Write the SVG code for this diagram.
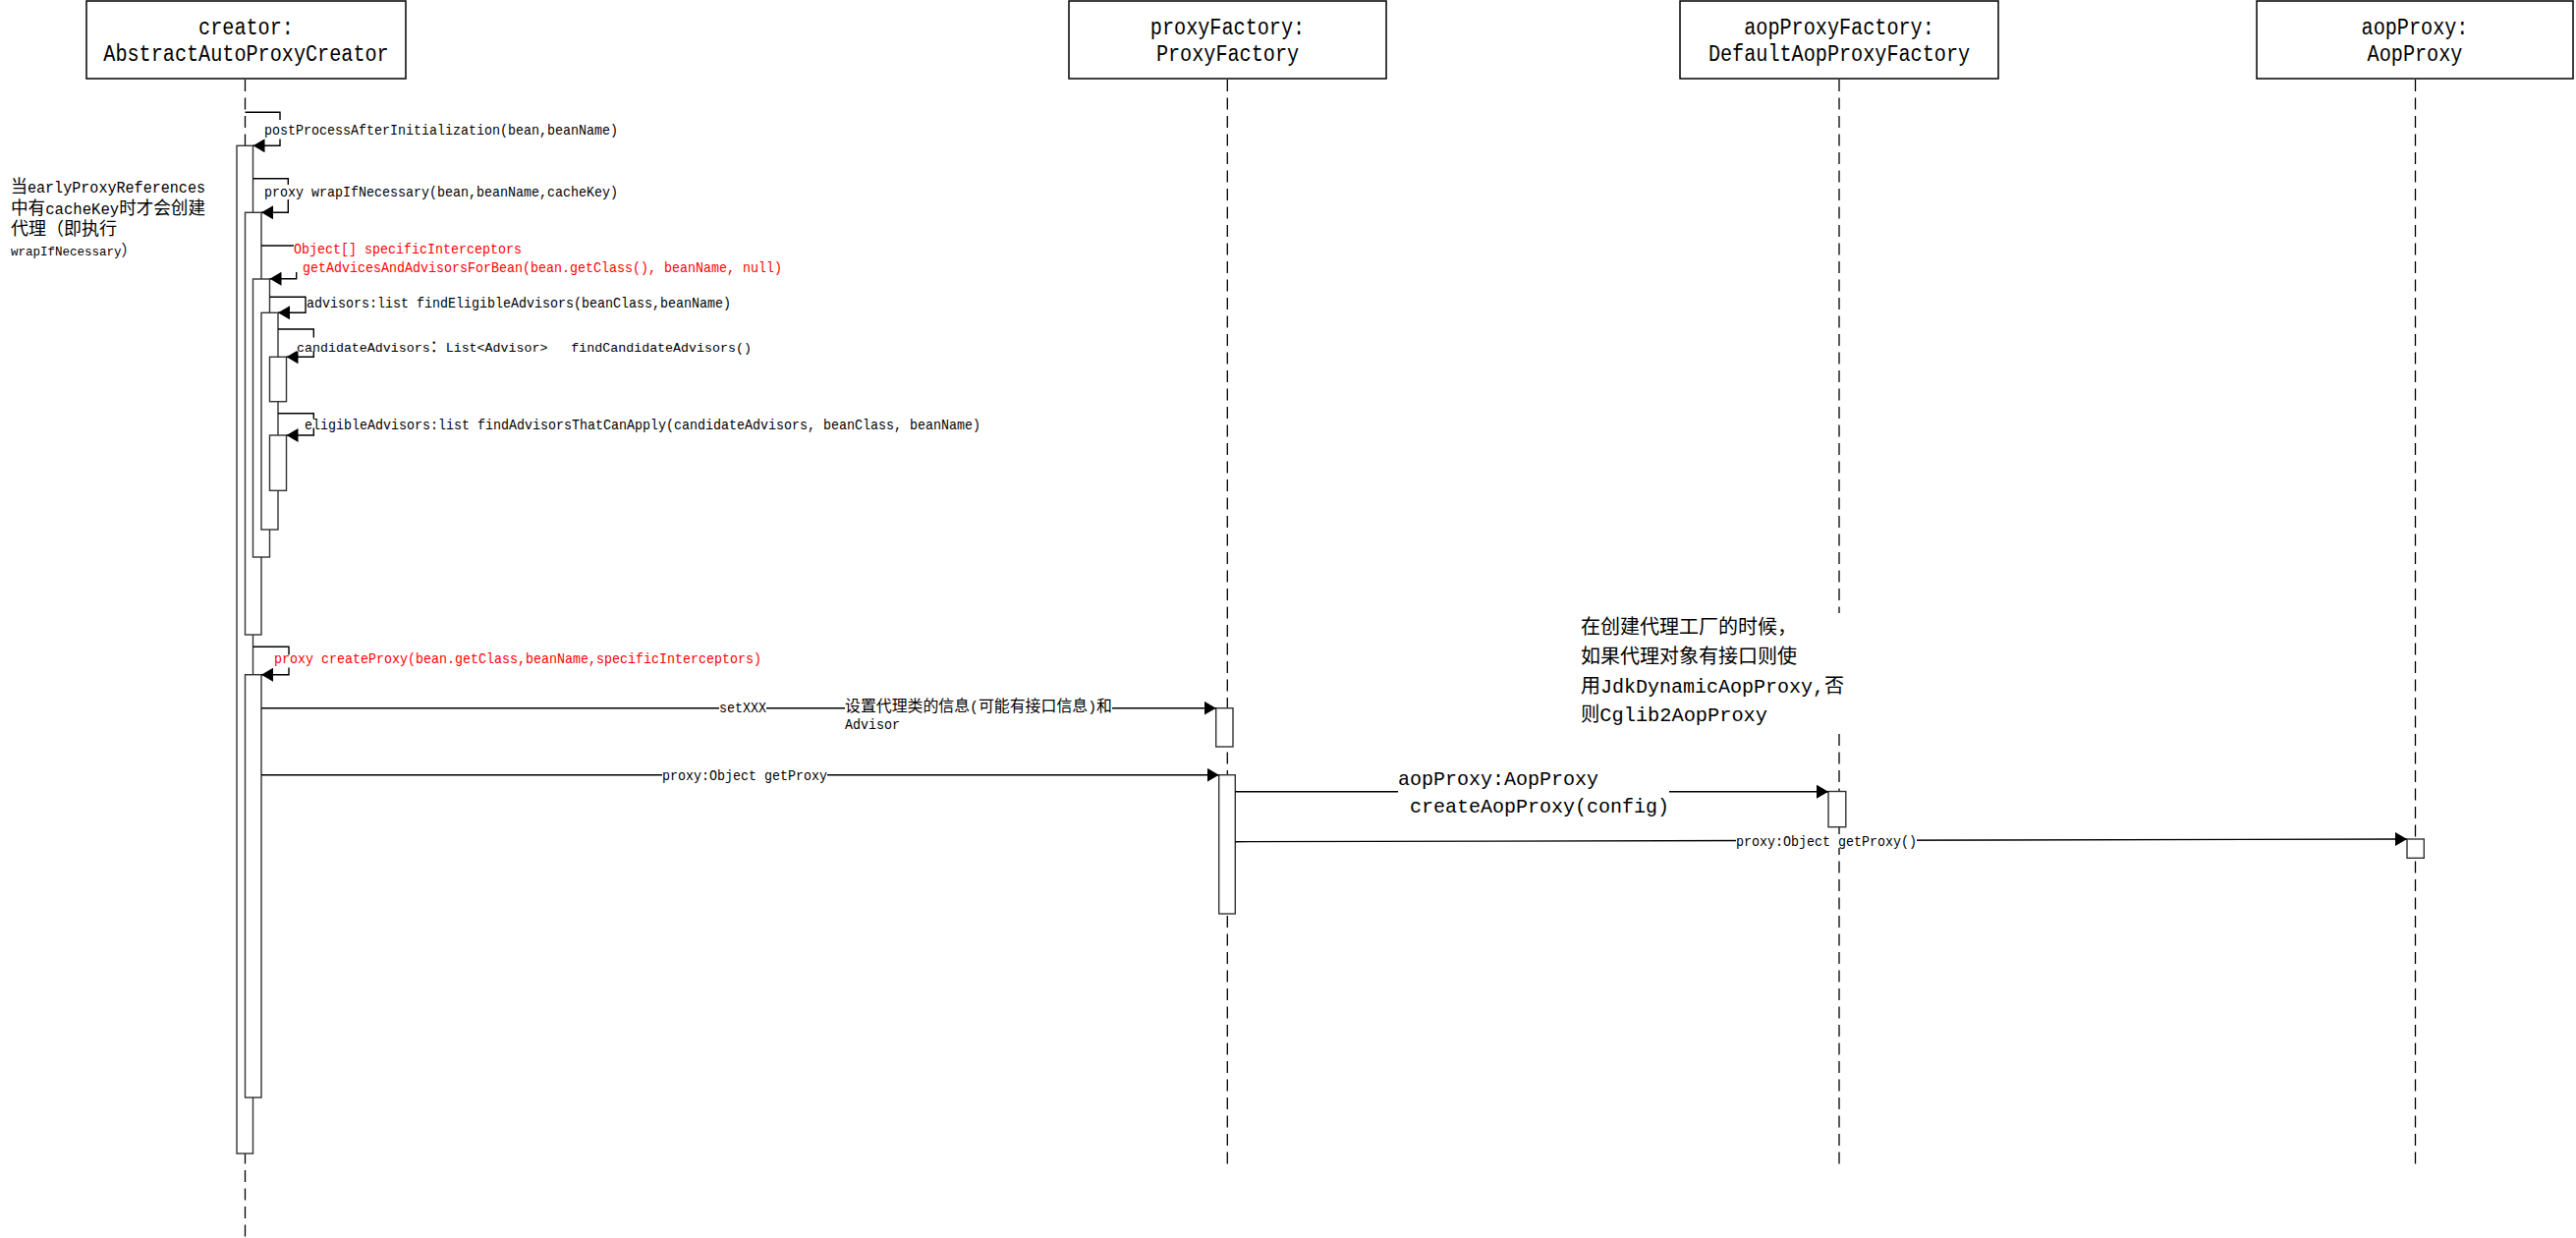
<svg xmlns="http://www.w3.org/2000/svg" width="2622" height="1260" viewBox="0 0 2622 1260">
<style>
.head{fill:#fff;stroke:#000;stroke-width:1.5}
.ht{font-family:"Liberation Mono","Noto Sans CJK SC",monospace;font-size:23px;fill:#000;text-anchor:middle}
.life{stroke:#000;stroke-width:1.3;stroke-dasharray:12 6.5;fill:none}
.bar{fill:#fff;stroke:#333;stroke-width:1.4}
.msg{fill:none;stroke:#000;stroke-width:1.4}
.lb{font-family:"Liberation Mono","Noto Sans CJK SC",monospace;font-size:15px;fill:#000}
.red{fill:#ff0000}
.c16{font-family:"Noto Sans CJK SC",sans-serif;font-size:16px}
.bg{fill:#fff;stroke:none}
.big{font-family:"Liberation Mono","Noto Sans CJK SC",monospace;font-size:21px;fill:#000}
.c20{font-family:"Noto Sans CJK SC",sans-serif;font-size:20px}
.note{font-family:"Liberation Mono","Noto Sans CJK SC",monospace;font-size:16px;fill:#000}
.c18{font-family:"Noto Sans CJK SC",sans-serif;font-size:18px}
</style>
<defs>
<marker id="arr" viewBox="0 0 12 14" refX="12" refY="7" markerWidth="12" markerHeight="14" markerUnits="userSpaceOnUse" orient="auto">
<path d="M0,0 L12,7 L0,14 z" fill="#000"/>
</marker>
</defs>
<rect width="2622" height="1260" fill="#fff"/>

<g id="creator">
<line class="life" x1="249.5" y1="81" x2="249.5" y2="1260"/>
<rect class="head" x="88" y="1" width="325" height="79"/>
<text class="ht" x="250.5" y="35" textLength="96.8" lengthAdjust="spacingAndGlyphs">creator:</text>
<text class="ht" x="250.5" y="62" textLength="290.4" lengthAdjust="spacingAndGlyphs">AbstractAutoProxyCreator</text>
<rect class="bar" x="241" y="148.3" width="16.5" height="1025.7"/>
<rect class="bar" x="249.5" y="216.3" width="16.5" height="429.7"/>
<rect class="bar" x="257.5" y="284" width="17" height="283"/>
<rect class="bar" x="266" y="318.3" width="17" height="220.7"/>
<rect class="bar" x="274.5" y="363.3" width="17" height="45.4"/>
<rect class="bar" x="274.5" y="443" width="17" height="56.3"/>
<rect class="bar" x="249.5" y="686.7" width="16.5" height="430.3"/>
</g>

<g id="proxyFactory">
<line class="life" x1="1249.3" y1="81" x2="1249.3" y2="1190"/>
<rect class="head" x="1088" y="1" width="323" height="79"/>
<text class="ht" x="1249.5" y="35" textLength="157.3" lengthAdjust="spacingAndGlyphs">proxyFactory:</text>
<text class="ht" x="1249.5" y="62" textLength="145.2" lengthAdjust="spacingAndGlyphs">ProxyFactory</text>
<rect class="bar" x="1237.7" y="720.7" width="17.3" height="39.3"/>
<rect class="bar" x="1240.7" y="788.7" width="16.6" height="141.3"/>
</g>

<g id="aopProxyFactory">
<line class="life" x1="1872" y1="81" x2="1872" y2="1190"/>
<rect class="head" x="1710" y="1" width="324" height="79"/>
<text class="ht" x="1872" y="35" textLength="193.6" lengthAdjust="spacingAndGlyphs">aopProxyFactory:</text>
<text class="ht" x="1872" y="62" textLength="266.2" lengthAdjust="spacingAndGlyphs">DefaultAopProxyFactory</text>
<rect class="bar" x="1861" y="805.5" width="17.8" height="36.2"/>
</g>

<g id="aopProxy">
<line class="life" x1="2458.5" y1="81" x2="2458.5" y2="1190"/>
<rect class="head" x="2297" y="1" width="322" height="79"/>
<text class="ht" x="2458" y="35" textLength="108.9" lengthAdjust="spacingAndGlyphs">aopProxy:</text>
<text class="ht" x="2458" y="62" textLength="96.8" lengthAdjust="spacingAndGlyphs">AopProxy</text>
<rect class="bar" x="2450" y="854" width="17.3" height="19.3"/>
</g>

<g id="note-left">
<text class="note" x="11" y="196" textLength="198" lengthAdjust="spacingAndGlyphs"><tspan class="c18">当</tspan>earlyProxyReferences</text>
<text class="note" x="11" y="218" textLength="198" lengthAdjust="spacingAndGlyphs"><tspan class="c18">中有</tspan>cacheKey<tspan class="c18">时才会创建</tspan></text>
<text class="note" x="11" y="239"><tspan class="c18">代理（即执行</tspan></text>
<text class="note" x="11" y="260" style="font-size:13px" textLength="128" lengthAdjust="spacingAndGlyphs">wrapIfNecessary<tspan class="c18" style="font-size:16px">）</tspan></text>
</g>

<g id="note-right">
<rect class="bg" x="1602" y="624" width="288" height="122"/>
<text class="big" x="1609" y="645"><tspan class="c20">在创建代理工厂的时候，</tspan></text>
<text class="big" x="1609" y="675"><tspan class="c20">如果代理对象有接口则使</tspan></text>
<text class="big" x="1609" y="705" style="font-size:20px"><tspan class="c20">用</tspan>JdkDynamicAopProxy,<tspan class="c20">否</tspan></text>
<text class="big" x="1609" y="734" textLength="190" lengthAdjust="spacingAndGlyphs"><tspan class="c20">则</tspan>Cglib2AopProxy</text>
</g>

<g id="connectors">
<path class="msg" d="M249.5,114.3 H285 V148.3 H257.5" marker-end="url(#arr)"/>
<path class="msg" d="M257.5,181.7 H293.3 V216.3 H266" marker-end="url(#arr)"/>
<path class="msg" d="M266,250 H301.7 V283.7 H274.5" marker-end="url(#arr)"/>
<path class="msg" d="M274.5,302.3 H311 V318.3 H283" marker-end="url(#arr)"/>
<path class="msg" d="M283,335 H319.3 V363.3 H291.5" marker-end="url(#arr)"/>
<path class="msg" d="M283,420.7 H319.3 V443 H291.5" marker-end="url(#arr)"/>
<path class="msg" d="M257.5,658.3 H294 V686.7 H266" marker-end="url(#arr)"/>
<path class="msg" d="M266,720.7 H1237.7" marker-end="url(#arr)"/>
<path class="msg" d="M266,788.7 H1240.7" marker-end="url(#arr)"/>
<path class="msg" d="M1257.3,805.7 H1861" marker-end="url(#arr)"/>
<path class="msg" d="M1257.3,856.7 L2450,854" marker-end="url(#arr)"/>

<rect class="bg" x="268" y="122" width="362" height="19.5"/>
<text class="lb" x="269" y="137" textLength="360" lengthAdjust="spacingAndGlyphs">postProcessAfterInitialization(bean,beanName)</text>

<rect class="bg" x="268" y="188" width="362" height="15"/>
<text class="lb" x="269" y="200" textLength="360" lengthAdjust="spacingAndGlyphs">proxy wrapIfNecessary(bean,beanName,cacheKey)</text>

<rect class="bg" x="299" y="244" width="497" height="33"/>
<text class="lb red" x="299" y="258" textLength="232" lengthAdjust="spacingAndGlyphs">Object[] specificInterceptors</text>
<text class="lb red" x="308" y="277" textLength="488" lengthAdjust="spacingAndGlyphs">getAdvicesAndAdvisorsForBean(bean.getClass(), beanName, null)</text>

<rect class="bg" x="312" y="302" width="433" height="14"/>
<text class="lb" x="312" y="313" textLength="432" lengthAdjust="spacingAndGlyphs">advisors:list findEligibleAdvisors(beanClass,beanName)</text>

<rect class="bg" x="302" y="343.5" width="465" height="14"/>
<text class="lb" x="302" y="357.5" xml:space="preserve" style="font-size:13.3px">candidateAdvisors<tspan class="c16">：</tspan>List&lt;Advisor&gt;   findCandidateAdvisors()</text>

<rect class="bg" x="310" y="426.5" width="689" height="9"/>
<text class="lb" x="310" y="437" textLength="688" lengthAdjust="spacingAndGlyphs">eligibleAdvisors:list findAdvisorsThatCanApply(candidateAdvisors, beanClass, beanName)</text>

<rect class="bg" x="279" y="666.5" width="497" height="13"/>
<text class="lb red" x="279" y="675" textLength="496" lengthAdjust="spacingAndGlyphs">proxy createProxy(bean.getClass,beanName,specificInterceptors)</text>

<rect class="bg" x="732" y="713" width="48" height="15"/>
<text class="lb" x="756" y="725" text-anchor="middle" textLength="48" lengthAdjust="spacingAndGlyphs">setXXX</text>

<rect class="bg" x="860" y="710" width="272" height="36"/>
<text class="lb" x="860" y="724" textLength="272" lengthAdjust="spacingAndGlyphs"><tspan class="c16">设置代理类的信息</tspan>(<tspan class="c16">可能有接口信息</tspan>)<tspan class="c16">和</tspan></text>
<text class="lb" x="860" y="742" textLength="56" lengthAdjust="spacingAndGlyphs">Advisor</text>

<rect class="bg" x="674" y="782" width="168" height="15"/>
<text class="lb" x="758" y="794" text-anchor="middle" textLength="168" lengthAdjust="spacingAndGlyphs">proxy:Object getProxy</text>

<rect class="bg" x="1423" y="780" width="276" height="54"/>
<text class="big" x="1423" y="799" textLength="204" lengthAdjust="spacingAndGlyphs">aopProxy:AopProxy</text>
<text class="big" x="1435" y="827" textLength="264" lengthAdjust="spacingAndGlyphs">createAopProxy(config)</text>

<rect class="bg" x="1767" y="849" width="184" height="14"/>
<text class="lb" x="1859" y="861" text-anchor="middle" textLength="184" lengthAdjust="spacingAndGlyphs">proxy:Object getProxy()</text>
</g>
</svg>
